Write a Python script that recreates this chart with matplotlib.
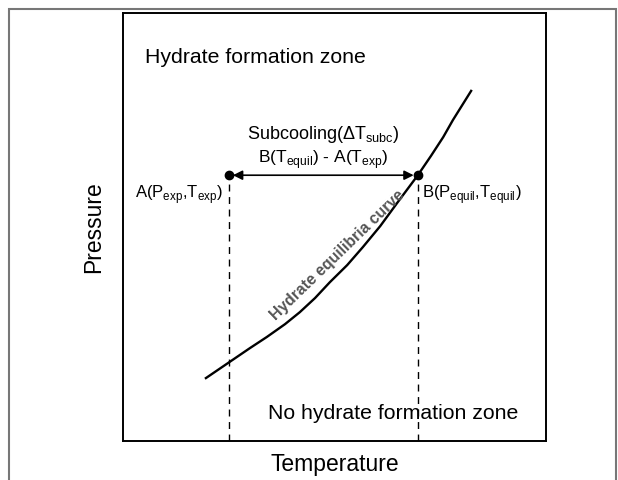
import matplotlib.pyplot as plt
from matplotlib.patches import Rectangle

plt.rcParams['font.family'] = ['Liberation Sans', 'DejaVu Sans']
plt.rcParams['mathtext.fontset'] = 'custom'
plt.rcParams['mathtext.rm'] = 'Liberation Sans'

# equilibrium curve (temperature, pressure in arbitrary units)
curve_t = [1.96, 2.48, 3.00, 3.40, 3.83, 4.18, 4.54, 4.89, 5.30, 5.67,
           6.08, 6.48, 6.97, 7.28, 7.57, 7.80, 8.23]
curve_p = [1.47, 1.82, 2.17, 2.43, 2.73, 3.01, 3.34, 3.71, 4.11, 4.53,
           5.02, 5.56, 6.21, 6.66, 7.10, 7.50, 8.18]

point_t = [2.5, 6.97]
point_p = [6.21, 6.21]

fig = plt.figure(figsize=(6.18, 4.8), dpi=100)
ax = fig.add_axes([123 / 618, 1 - 441 / 480, 423 / 618, 428 / 480])
ax.set_xlim(0, 10)
ax.set_ylim(0, 10)
ax.set_xticks([])
ax.set_yticks([])
for s in ax.spines.values():
    s.set_linewidth(1.4)

# outer grey frame
fig.patches.append(Rectangle((8.5 / 618, -0.1), 607 / 618, 1.1 - 9 / 480,
                             transform=fig.transFigure, fill=False,
                             edgecolor='#777777', linewidth=1.5))

ax.plot(curve_t, curve_p, color='black', linewidth=1.7, solid_joinstyle='round')

for t, p in zip(point_t, point_p):
    ax.plot([t, t], [0, p], color='black', linestyle=(0, (5, 4)), linewidth=1.0)
ax.plot(point_t, point_p, 'o', color='black', markersize=6, zorder=5)

ax.annotate('', xy=(point_t[0], point_p[0]), xytext=(point_t[1], point_p[1]),
            arrowprops=dict(arrowstyle='<|-|>', color='black', lw=1.2,
                            shrinkA=3, shrinkB=3, mutation_scale=14))

ax.text(0.52, 8.95, 'Hydrate formation zone', fontsize=15.3, va='center', ha='left')
ax.text(3.42, 0.64, 'No hydrate formation zone', fontsize=15.3, va='center', ha='left')

mid = (point_t[0] + point_t[1]) / 2
ax.text(mid, 7.17, r'Subcooling($\Delta$T$_{\mathregular{subc}}$)', fontsize=13,
        ha='center', va='center')
ax.text(mid, 6.58, r'B(T$_{\mathregular{equil}}$) - A(T$_{\mathregular{exp}}$)',
        fontsize=12.5, ha='center', va='center')

ax.text(point_t[0] - 0.15, 5.76, r'A(P$_{\mathregular{exp}}$,T$_{\mathregular{exp}}$)',
        fontsize=12, ha='right', va='center')
ax.text(point_t[1] + 0.1, 5.76, r'B(P$_{\mathregular{equil}}$,T$_{\mathregular{equil}}$)',
        fontsize=12, ha='left', va='center')

ax.text(5.06, 4.34, 'Hydrate equilibria curve', fontsize=11.3, fontweight='bold',
        color='#555555', rotation=44, ha='center', va='center',
        rotation_mode='anchor')

ax.set_xlabel('Temperature', fontsize=16.5, labelpad=9)
ax.set_ylabel('Pressure', fontsize=16.5, labelpad=13)

fig.savefig('out.png', dpi=100)
